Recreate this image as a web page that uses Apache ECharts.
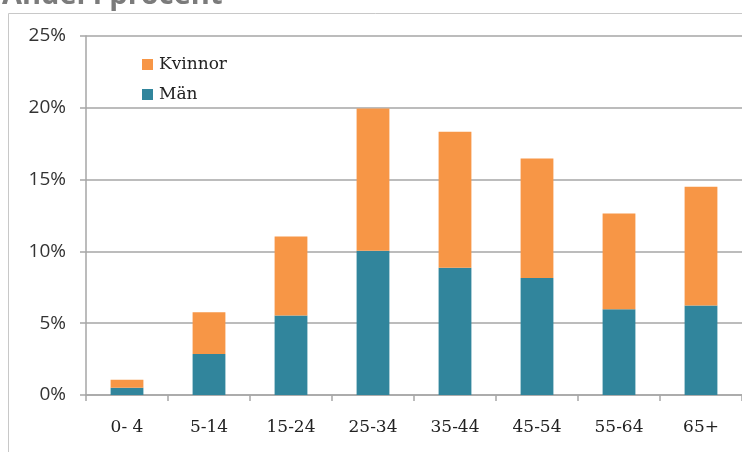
<!DOCTYPE html>
<html>
<head>
<meta charset="utf-8">
<script src="https://cdn.jsdelivr.net/npm/echarts@6/dist/echarts.min.js"></script>
<style>
html,body{margin:0;padding:0;background:#fff;}
#chart{width:742px;height:452px;}
</style>
</head>
<body>
<div id="chart"></div>
<script>
var titleText = 'Andel i procent';
var categories = ['0- 4', '5-14', '15-24', '25-34', '35-44', '45-54', '55-64', '65+'];
var manValues = [0.5, 2.85, 5.54, 10.05, 8.86, 8.15, 5.98, 6.24];
var kvinnorValues = [0.57, 2.92, 5.49, 9.9, 9.48, 8.32, 6.66, 8.27];
var seriesNames = ['Kvinnor', 'Män'];
var yTicks = [0, 5, 10, 15, 20, 25];

var chart = echarts.init(document.getElementById('chart'), null, {renderer: 'canvas'});
var option = {
  animation: false,
  backgroundColor: '#ffffff',
  title: {
    text: titleText,
    left: -3,
    top: -24,
    textStyle: {fontFamily: 'Open Sans', fontWeight: 'bold', fontSize: 29, color: '#7b7b7b'}
  },
  graphic: [{
    type: 'rect',
    shape: {x: 8.5, y: 13.5, width: 800, height: 500},
    style: {fill: 'none', stroke: '#c8c8c8', lineWidth: 1},
    silent: true,
    z: -1
  }],
  legend: {
    data: seriesNames,
    orient: 'vertical',
    left: 137,
    top: 51,
    itemWidth: 11,
    itemHeight: 11,
    itemGap: 13,
    icon: 'rect',
    textStyle: {fontFamily: 'DejaVu Serif', fontSize: 17, color: '#222', padding: [0, 0, 0, 1]}
  },
  grid: {left: 86, top: 36, bottom: 57, width: 661, containLabel: false},
  xAxis: {
    type: 'category',
    data: categories,
    axisLine: {lineStyle: {color: '#a6a6a6', width: 1.5}},
    axisTick: {show: true, length: 6, lineStyle: {color: '#a6a6a6', width: 1.5}},
    axisLabel: {margin: 24, fontFamily: 'DejaVu Serif', fontSize: 17, color: '#222'}
  },
  yAxis: {
    type: 'value',
    min: yTicks[0],
    max: yTicks[yTicks.length - 1],
    interval: yTicks[1] - yTicks[0],
    axisLine: {show: true, lineStyle: {color: '#a6a6a6', width: 1.5}},
    axisTick: {show: true, length: 6, lineStyle: {color: '#a6a6a6', width: 1.5}},
    splitLine: {lineStyle: {color: '#a6a6a6', width: 1.5}},
    axisLabel: {margin: 20, fontFamily: 'Open Sans', fontSize: 19, color: '#333', formatter: '{value}%'}
  },
  series: [
    {
      name: 'Män',
      type: 'bar',
      stack: 'total',
      data: manValues,
      barWidth: '40%',
      itemStyle: {color: '#31859c'}
    },
    {
      name: 'Kvinnor',
      type: 'bar',
      stack: 'total',
      data: kvinnorValues,
      barWidth: '40%',
      itemStyle: {color: '#f79646'}
    }
  ]
};
chart.setOption(option);
</script>
</body>
</html>
